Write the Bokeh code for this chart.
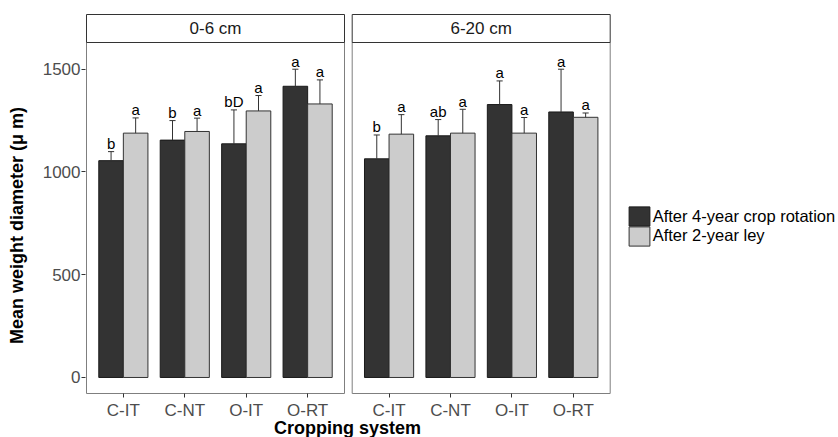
from bokeh.plotting import figure
from bokeh.models import Range1d, FixedTicker, Label, Legend, LegendItem, ColumnDataSource
from bokeh.embed import file_html
from bokeh.resources import INLINE
from bokeh.core.properties import value

# ---------------- data ----------------
cats = ["C-IT", "C-NT", "O-IT", "O-RT"]
depths = ["0-6 cm", "6-20 cm"]
series_names = ["After 4-year crop rotation", "After 2-year ley"]

rot_06 = [1055, 1155, 1137, 1417]
rot_06_se = [44, 95, 165, 83]
rot_06_let = ["b", "b", "bD", "a"]

ley_06 = [1189, 1197, 1297, 1331]
ley_06_se = [74, 65, 75, 117]
ley_06_let = ["a", "a", "a", "a"]

rot_620 = [1064, 1176, 1328, 1292]
rot_620_se = [116, 79, 115, 208]
rot_620_let = ["b", "ab", "a", "a"]

ley_620 = [1184, 1189, 1189, 1266]
ley_620_se = [95, 116, 76, 21]
ley_620_let = ["a", "a", "a", "a"]

y_ticks = [0, 500, 1000, 1500]

# ---------------- geometry (pixels) ----------------
FONT = "Liberation Sans"
W, H = 838, 437
FRAME_L, FRAME_T = 85, 13          # frame reaches the right and bottom canvas edges
PANEL_L, PANEL_T, PANEL_B = 86, 42, 393
STRIP_H = 28
kx = 258 / 4.2                     # px per category unit
gap_u = 7.7 / kx                   # gap between the two panels
panel_offsets = [0.0, 4.2 + gap_u]
x_start = 0.4 - (PANEL_L - FRAME_L) / kx
x_end = x_start + (W - FRAME_L) / kx
y_lo, y_hi = -78.0, 1630.0
ky = (PANEL_B - PANEL_T) / (y_hi - y_lo)
y_start = y_lo - (H - PANEL_B) / ky
y_end = y_hi + (PANEL_T - FRAME_T) / ky
strip_top = y_hi + STRIP_H / ky

def px_x(px):
    return x_start + (px - FRAME_L) / kx

def px_y(py):
    return y_start + (H - py) / ky

p = figure(width=W, height=H, output_backend="svg", toolbar_location=None,
           x_range=Range1d(x_start, x_end), y_range=Range1d(y_start, y_end),
           min_border_left=FRAME_L, min_border_top=FRAME_T,
           min_border_bottom=0, min_border_right=0)
p.outline_line_color = None
p.grid.visible = False
p.background_fill_color = "white"
p.border_fill_color = "white"

# ---------------- bars ----------------
def build(means_list, se_list, let_list, shift):
    xs, tops, errs, lets = [], [], [], []
    for off, means, ses, lts in zip(panel_offsets, means_list, se_list, let_list):
        for i, (m, s, l) in enumerate(zip(means, ses, lts)):
            xs.append(off + i + 1 + shift)
            tops.append(m)
            errs.append(m + s)
            lets.append(l)
    return ColumnDataSource(dict(x=xs, top=tops, err=errs, let=lets,
                                 x0=[v - 0.05 for v in xs], x1=[v + 0.05 for v in xs]))

src_rot = build([rot_06, rot_620], [rot_06_se, rot_620_se], [rot_06_let, rot_620_let], -0.2)
src_ley = build([ley_06, ley_620], [ley_06_se, ley_620_se], [ley_06_let, ley_620_let], 0.2)

r_rot = p.vbar(x="x", top="top", bottom=0, width=0.4, source=src_rot,
               fill_color="#333333", line_color="#1a1a1a", line_width=1)
r_ley = p.vbar(x="x", top="top", bottom=0, width=0.4, source=src_ley,
               fill_color="#cccccc", line_color="#333333", line_width=1)

for src in (src_rot, src_ley):
    p.segment(x0="x", y0="top", x1="x", y1="err", source=src, line_color="#333333", line_width=1)
    p.segment(x0="x0", y0="err", x1="x1", y1="err", source=src, line_color="#333333", line_width=1)
    p.text(x="x", y="err", text="let", source=src, text_font=value(FONT),
           text_font_size="15px", text_color="black", text_align="center",
           text_baseline="alphabetic", y_offset=-8)

# ---------------- panels & strips ----------------
lefts = [off + 0.4 for off in panel_offsets]
rights = [off + 4.6 for off in panel_offsets]
p.quad(left=lefts, right=rights, bottom=[y_lo] * 2, top=[y_hi] * 2,
       fill_color=None, line_color="#7f7f7f", line_width=1)
p.quad(left=lefts, right=rights, bottom=[y_hi] * 2, top=[strip_top] * 2,
       fill_color="white", line_color="#333333", line_width=1)
p.text(x=[(a + b) / 2 for a, b in zip(lefts, rights)], y=[(y_hi + strip_top) / 2] * 2,
       text=depths, text_font=value(FONT), text_font_size="17px", text_color="#1a1a1a",
       text_align="center", text_baseline="middle")

# ---------------- axes ----------------
xt = []
xl = {}
for off in panel_offsets:
    for i, c in enumerate(cats):
        t = round(off + i + 1, 4)
        xt.append(t)
        xl[t] = c
p.xaxis.ticker = FixedTicker(ticks=xt)
p.xaxis.major_label_overrides = xl
p.xaxis.fixed_location = y_lo
p.yaxis.ticker = FixedTicker(ticks=y_ticks)
for ax in (p.xaxis, p.yaxis):
    ax.axis_line_color = None
    ax.minor_tick_line_color = None
    ax.major_tick_line_color = "#333333"
    ax.major_tick_in = 0
    ax.major_tick_out = 4
    ax.major_label_text_font = FONT
    ax.major_label_text_font_size = "17px"
    ax.major_label_text_color = "#4d4d4d"
p.xaxis.major_label_standoff = 3
p.yaxis.major_label_standoff = 1
p.yaxis.axis_label = "Mean weight diameter (\u03bc m)"
p.yaxis.axis_label_text_font = FONT
p.yaxis.axis_label_text_font_size = "18px"
p.yaxis.axis_label_text_font_style = "bold"
p.yaxis.axis_label_text_color = "black"
p.yaxis.axis_label_standoff = 13

p.add_layout(Label(x=px_x(347), y=px_y(427), text="Cropping system",
                   text_font=FONT, text_font_size="18px", text_font_style="bold",
                   text_color="black", text_align="center", text_baseline="alphabetic"))

# ---------------- legend ----------------
GW, GH = 26, 24
key_left, key_tops = 628.3, [206.7, 226.0]
for name, rend, kt in zip(series_names, [r_rot, r_ley], key_tops):
    bbox_left = key_left - 0.1 * GW
    bbox_bottom = kt - 0.1 * GH + GH
    lg = Legend(items=[LegendItem(label=name, renderers=[rend])],
                location=(bbox_left - FRAME_L, H - bbox_bottom), orientation="vertical",
                glyph_width=GW, glyph_height=GH, spacing=0, label_standoff=1,
                padding=0, margin=0, border_line_color=None, background_fill_alpha=0,
                label_text_font=FONT, label_text_font_size="16.5px", label_text_color="black")
    p.add_layout(lg)

open("out.html", "w").write(file_html(p, INLINE))
